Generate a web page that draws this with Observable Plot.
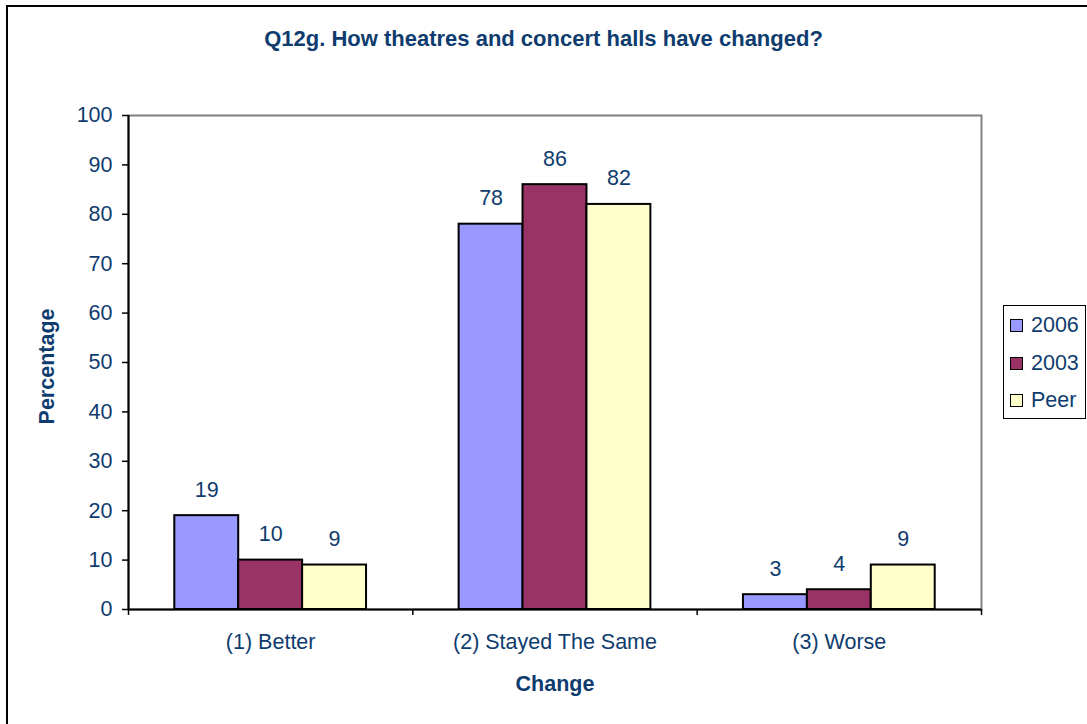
<!DOCTYPE html>
<html>
<head>
<meta charset="utf-8">
<script src="https://cdn.jsdelivr.net/npm/d3@7"></script>
<script src="https://cdn.jsdelivr.net/npm/@observablehq/plot@0.6"></script>
<style>
  html, body { margin: 0; padding: 0; background: #fff; }
  #wrap { position: relative; width: 1087px; height: 724px; overflow: hidden; font-family: "Liberation Sans", Arial, sans-serif; color: #0f3c6e; }
  #border { position: absolute; left: 6px; top: 5px; width: 2000px; height: 2000px; border-left: 2px solid #000; border-top: 2px solid #000; pointer-events: none; }
  #title { position: relative; height: 70px; box-sizing: border-box; padding-top: 28px; line-height: 22px; font-size: 22px; font-weight: bold; text-align: center; }
  #chart svg { display: block; }
  #legend { position: absolute; left: 1003px; top: 305px; width: 83px; height: 114px; box-sizing: border-box; border: 1.5px solid #000; padding-top: 1px; background: #fff; }
  .item { height: 37.5px; display: flex; align-items: center; font-size: 21.5px; }
  .sw { width: 11px; height: 11px; border: 1.5px solid #000; margin-left: 6px; margin-right: 8px; }
</style>
</head>
<body>
<div id="wrap">
  <div id="border"></div>
  <div id="title"></div>
  <div id="chart"></div>
  <div id="legend"></div>
</div>
<script>
const titleText = "Q12g. How theatres and concert halls have changed?";
const categories = ["(1) Better", "(2) Stayed The Same", "(3) Worse"];
const series = ["2006", "2003", "Peer"];
const values2006 = [19, 78, 3];
const values2003 = [10, 86, 4];
const valuesPeer = [9, 82, 9];
const seriesColors = ["#9999FF", "#993366", "#FFFFCC"];
const yTicks = [0, 10, 20, 30, 40, 50, 60, 70, 80, 90, 100];
const yLabel = "Percentage";
const xLabel = "Change";

const NAVY = "#0f3c6e";
const FS = 21.5;
// group layout in category units
const OUTER = 0.1628;
const BW = (1 - 2 * OUTER) / series.length;

const seriesValues = [values2006, values2003, valuesPeer];
const rows = [];
categories.forEach((c, ci) => {
  series.forEach((s, si) => {
    rows.push({category: c, series: s, value: seriesValues[si][ci], ci, si});
  });
});
const x1 = d => d.ci + OUTER + d.si * BW;
const x2 = d => d.ci + OUTER + (d.si + 1) * BW;
const xc = d => d.ci + OUTER + (d.si + 0.5) * BW;

document.getElementById("title").textContent = titleText;

const plot = Plot.plot({
  width: 1087,
  height: 654,
  marginTop: 45,
  marginBottom: 115,
  marginLeft: 128,
  marginRight: 106,
  style: {fontFamily: "'Liberation Sans', Arial, sans-serif", fontSize: FS + "px", color: NAVY, background: "transparent"},
  x: {type: "linear", domain: [0, categories.length]},
  y: {domain: [0, 100]},
  color: {domain: series, range: seriesColors},
  marks: [
    Plot.frame({stroke: "#808080", strokeWidth: 2}),
    Plot.rectY(rows, {x1, x2, y: "value", fill: "series", stroke: "#000", strokeWidth: 2}),
    Plot.ruleX([0], {stroke: "#000", strokeWidth: 2}),
    Plot.ruleY([0], {stroke: "#000", strokeWidth: 2}),
    Plot.text(rows, {x: xc, y: "value", text: d => String(d.value), dy: -26, lineAnchor: "middle", fontSize: FS, fill: NAVY}),
    Plot.axisY(yTicks, {tickSize: 6, tickPadding: 10, label: null, stroke: "#000", strokeWidth: 1.5, fill: NAVY, fontSize: FS}),
    Plot.axisX(d3.range(categories.length + 1), {tickSize: 6, tickFormat: () => "", label: null, stroke: "#000", strokeWidth: 1.5}),
    Plot.axisX(categories.map((c, i) => i + 0.5), {tickSize: 0, tickPadding: 24, tickFormat: d => categories[Math.floor(d)], label: null, fill: NAVY, fontSize: FS}),
    Plot.text([yLabel], {frameAnchor: "left", dx: -81, dy: 4, rotate: -90, textAnchor: "middle", lineAnchor: "middle", fontWeight: "bold", fontSize: FS, fill: NAVY}),
    Plot.text([xLabel], {frameAnchor: "bottom", dy: 66, textAnchor: "middle", lineAnchor: "top", fontWeight: "bold", fontSize: FS, fill: NAVY})
  ]
});
document.getElementById("chart").appendChild(plot);

const legend = document.getElementById("legend");
series.forEach((s, i) => {
  const item = document.createElement("div");
  item.className = "item";
  const sw = document.createElement("div");
  sw.className = "sw";
  sw.style.background = seriesColors[i];
  const label = document.createElement("span");
  label.textContent = s;
  item.appendChild(sw);
  item.appendChild(label);
  legend.appendChild(item);
});
</script>
</body>
</html>
